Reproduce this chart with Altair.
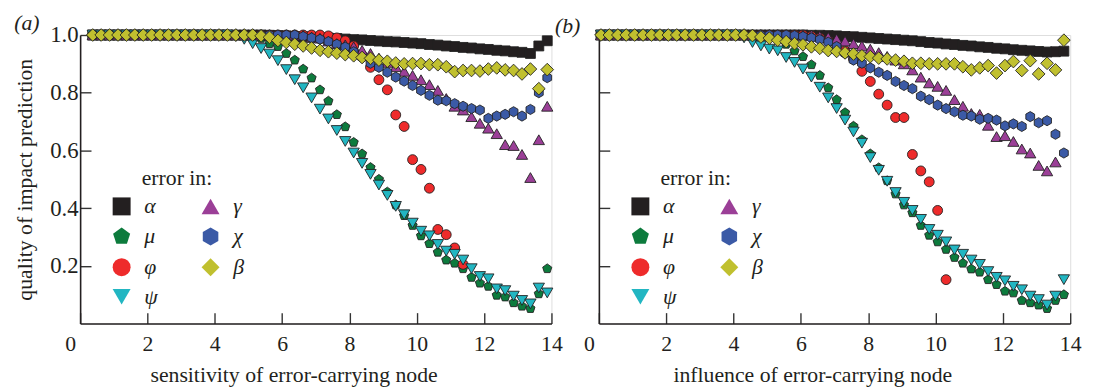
import altair as alt
import pandas as pd

# ---------------- data ----------------
X_LEFT = [0.375, 0.625, 0.875, 1.125, 1.375, 1.625, 1.875, 2.125, 2.375, 2.625,
          2.875, 3.125, 3.375, 3.625, 3.875, 4.125, 4.375, 4.625, 4.875, 5.125,
          5.375, 5.625, 5.875, 6.125, 6.375, 6.625, 6.875, 7.125, 7.375, 7.625,
          7.875, 8.125, 8.375, 8.625, 8.875, 9.125, 9.375, 9.625, 9.875, 10.125,
          10.375, 10.625, 10.875, 11.125, 11.375, 11.625, 11.875, 12.125, 12.375, 12.625,
          12.875, 13.125, 13.375, 13.625, 13.875]

ONE20 = [1.0] * 20
L_ALPHA = ONE20 + [1.0, 0.999, 0.998, 0.997, 0.995, 0.994, 0.992, 0.991, 0.989, 0.988,
                   0.986, 0.984, 0.983, 0.981, 0.979, 0.977, 0.976, 0.974, 0.972, 0.970,
                   0.967, 0.965, 0.962, 0.960, 0.957, 0.955, 0.952, 0.950, 0.947, 0.945,
                   0.942, 0.940, 0.936, 0.962, 0.980]
L_MU = ONE20 + [0.988, 0.970, 0.960, 0.936, 0.913, 0.882, 0.851, 0.810, 0.771, 0.724,
                0.682, 0.628, 0.588, 0.541, 0.500, 0.456, 0.411, 0.374, 0.340, 0.304,
                0.277, 0.247, 0.220, 0.209, 0.190, 0.160, 0.140, 0.129, 0.098, 0.092,
                0.072, 0.060, 0.052, 0.103, 0.190]
L_PHI = [1.0] * 28 + [0.997, 0.990, 0.980, 0.962, 0.930, 0.888, 0.845, 0.810, 0.723, 0.683,
                      0.568, 0.534, 0.469, 0.326, 0.308, 0.262, 0.205] + [None] * 10
L_PSI = [1.0] * 17 + [0.995, 0.985, 0.970, 0.953, 0.934, 0.911, 0.880, 0.845, 0.817, 0.782,
                      0.743, 0.709, 0.669, 0.631, 0.591, 0.555, 0.517, 0.480, 0.444, 0.406,
                      0.377, 0.348, 0.320, 0.304, 0.274, 0.251, 0.240, 0.220, 0.190, 0.163,
                      0.155, 0.120, 0.114, 0.095, 0.080, 0.068, 0.123, 0.106]
L_GAMMA = [1.0] * 25 + [0.998, 0.993, 0.989, 0.979, 0.970, 0.966, 0.959, 0.947, 0.936, 0.920,
                        0.905, 0.890, 0.874, 0.860, 0.845, 0.828, 0.808, 0.780, 0.753, 0.740,
                        0.717, 0.694, 0.677, 0.658, 0.620, 0.617, 0.586, 0.506, 0.637, 0.753]
L_CHI = [1.0] * 25 + [0.995, 0.990, 0.985, 0.977, 0.968, 0.958, 0.942, 0.922, 0.902, 0.888,
                      0.871, 0.854, 0.840, 0.825, 0.808, 0.791, 0.774, 0.772, 0.762, 0.753,
                      0.745, 0.740, 0.711, 0.719, 0.725, 0.734, 0.719, 0.742, 0.800, 0.852]
L_BETA = ONE20 + [0.997, 0.992, 0.981, 0.974, 0.968, 0.962, 0.955, 0.947, 0.942, 0.937,
                  0.932, 0.928, 0.922, 0.919, 0.913, 0.909, 0.903, 0.900, 0.901, 0.901,
                  0.897, 0.897, 0.890, 0.873, 0.877, 0.877, 0.875, 0.882, 0.886, 0.879,
                  0.877, 0.865, 0.882, 0.814, 0.880]

X_RIGHT = [0.0625, 0.3125, 0.5625, 0.8125, 1.0625, 1.3125, 1.5625, 1.8125, 2.0625, 2.3125,
           2.5625, 2.8125, 3.0625, 3.3125, 3.5625, 3.8125, 4.0625, 4.3125, 4.5625, 4.8125,
           5.0625, 5.3125, 5.5625, 5.8125, 6.0625, 6.3125, 6.5625, 6.8125, 7.0625, 7.3125,
           7.5625, 7.8125, 8.0625, 8.3125, 8.5625, 8.8125, 9.0625, 9.3125, 9.5625, 9.8125,
           10.0625, 10.3125, 10.5625, 10.8125, 11.0625, 11.3125, 11.5625, 11.8125, 12.0625, 12.3125,
           12.5625, 12.8125, 13.0625, 13.3125, 13.5625, 13.8125]

R_ALPHA = [1.0] * 24 + [1.0, 0.999, 0.999, 0.998, 0.997, 0.995, 0.994, 0.992, 0.990, 0.988,
                        0.986, 0.984, 0.982, 0.980, 0.977, 0.974, 0.972, 0.969, 0.967, 0.964,
                        0.962, 0.959, 0.957, 0.954, 0.952, 0.949, 0.947, 0.945, 0.943, 0.941,
                        0.942, 0.944]
R_MU = [1.0] * 21 + [0.990, 0.968, 0.945, 0.925, 0.897, 0.860, 0.817, 0.776, 0.731, 0.684,
                     0.637, 0.588, 0.540, 0.495, 0.449, 0.411, 0.384, 0.340, 0.306, 0.283,
                     0.257, 0.229, 0.209, 0.189, 0.178, 0.152, 0.135, 0.112, 0.106, 0.080,
                     0.072, 0.064, 0.052, 0.080, 0.100]
R_PHI = [1.0] * 25 + [0.996, 0.990, 0.980, 0.965, 0.945, 0.917, 0.874, 0.839, 0.795, 0.757,
                      0.714, 0.714, 0.586, 0.529, 0.491, 0.392, 0.152] + [None] * 14
R_PSI = [1.0] * 17 + [0.990, 0.974, 0.962, 0.951, 0.945, 0.922, 0.905, 0.882, 0.854, 0.819,
                      0.782, 0.745, 0.705, 0.664, 0.625, 0.575, 0.531, 0.493, 0.454, 0.420,
                      0.392, 0.361, 0.326, 0.306, 0.283, 0.255, 0.240, 0.220, 0.205, 0.180,
                      0.160, 0.148, 0.129, 0.117, 0.095, 0.083, 0.064, 0.095, 0.152]
R_GAMMA = [1.0] * 26 + [0.996, 0.992, 0.986, 0.979, 0.970, 0.962, 0.951, 0.939, 0.926, 0.913,
                        0.900, 0.879, 0.854, 0.834, 0.822, 0.808, 0.776, 0.753, 0.728, 0.725,
                        0.687, 0.648, 0.651, 0.631, 0.605, 0.591, 0.548, 0.529, 0.560, None]
R_CHI = [1.0] * 23 + [0.998, 0.995, 0.990, 0.984, 0.975, 0.960, 0.936, 0.913, 0.902, 0.886,
                      0.871, 0.860, 0.839, 0.825, 0.814, 0.788, 0.776, 0.757, 0.745, 0.734,
                      0.722, 0.719, 0.708, 0.711, 0.705, 0.685, 0.692, 0.683, 0.717, 0.696,
                      0.703, 0.656, 0.591]
R_BETA = [1.0] * 18 + [0.998, 0.993, 0.989, 0.982, 0.977, 0.970, 0.966, 0.959, 0.954, 0.946,
                       0.943, 0.938, 0.934, 0.928, 0.925, 0.920, 0.917, 0.913, 0.909, 0.902,
                       0.902, 0.900, 0.900, 0.900, 0.900, 0.890, 0.879, 0.886, 0.894, 0.868,
                       0.894, 0.908, 0.877, 0.911, 0.865, 0.902, 0.879, 0.982]

# drawing order == legend order (legend fills column by column: α μ φ ψ | γ χ β)
SERIES = ["α", "μ", "φ", "ψ", "γ", "χ", "β"]
COLORS = {"α": "#231f20", "μ": "#0d7b3d", "φ": "#ee2b2b", "ψ": "#22b6c2",
          "γ": "#9b3f97", "χ": "#3b5aa6", "β": "#c0c02f"}
PENTAGON = "M0,-1L0.951,-0.309L0.588,0.809L-0.588,0.809L-0.951,-0.309Z"
HEXAGON = "M0,-1L0.866,-0.5L0.866,0.5L0,1L-0.866,0.5L-0.866,-0.5Z"
SHAPES = {"α": "square", "μ": PENTAGON, "φ": "circle", "ψ": "triangle-down",
          "γ": "triangle-up", "χ": HEXAGON, "β": "diamond"}
SIZES = {"α": 100, "μ": 95, "φ": 100, "ψ": 130, "γ": 130, "χ": 105, "β": 165}

LEFT = {"α": L_ALPHA, "μ": L_MU, "φ": L_PHI, "ψ": L_PSI, "γ": L_GAMMA, "χ": L_CHI, "β": L_BETA}
RIGHT = {"α": R_ALPHA, "μ": R_MU, "φ": R_PHI, "ψ": R_PSI, "γ": R_GAMMA, "χ": R_CHI, "β": R_BETA}


def frame(xs, series):
    rows = []
    for s in SERIES:
        for xv, yv in zip(xs, series[s]):
            if yv is not None:
                rows.append({"x": xv, "y": yv, "s": s})
    return pd.DataFrame(rows)


FONT = "Liberation Serif"
INK = "#231f20"
W, H = 477, 292


def panel(df, xtitle, label, ylabels, title_dx):
    legend = alt.Legend(
        title="error in:", orient="none", legendX=31, legendY=135, columns=2,
        symbolSize=330, symbolStrokeColor="#222222", symbolStrokeWidth=1,
        symbolOpacity=1, labelFont=FONT, labelFontStyle="italic", labelFontSize=22,
        labelColor=INK, titleFont=FONT, titleFontSize=22, titleFontWeight="normal",
        titleColor=INK, rowPadding=7, columnPadding=41, labelOffset=12,
        titleAnchor="middle", titlePadding=5,
    )
    xaxis = alt.Axis(
        values=[0, 2, 4, 6, 8, 10, 12, 14], title=xtitle, grid=False,
        labelFlush=False,
        labelOffset={"condition": {"test": "datum.value === 0", "value": -10}, "value": 0},
        labelFont=FONT, labelFontSize=22, labelColor=INK, labelPadding=21,
        titleFont=FONT, titleFontSize=22, titleFontWeight="normal", titleColor=INK,
        titlePadding=11, titleX=216,
        domainColor=INK, domainWidth=1.6, tickColor="#333333", tickWidth=1.4,
        tickSize={"expr": "-11"},
    )
    yaxis = alt.Axis(
        values=[0.2, 0.4, 0.6, 0.8, 1.0], format=".1f", grid=False,
        labels=ylabels, title="quality of impact prediction" if ylabels else None,
        labelFont=FONT, labelFontSize=23, labelColor=INK, labelPadding=13,
        titleFont=FONT, titleFontSize=22, titleFontWeight="normal", titleColor=INK,
        titlePadding=13,
        domainColor=INK, domainWidth=1.6, tickColor="#333333", tickWidth=1.4,
        tickSize={"expr": "-11"},
    )
    base = alt.Chart(df).encode(
        x=alt.X("x:Q", scale=alt.Scale(domain=[0, 14], nice=False, zero=False), axis=xaxis),
        y=alt.Y("y:Q", scale=alt.Scale(domain=[0, 1], nice=False), axis=yaxis),
        fill=alt.Fill("s:N", scale=alt.Scale(domain=SERIES,
                                             range=[COLORS[k] for k in SERIES]),
                      legend=legend),
        shape=alt.Shape("s:N", scale=alt.Scale(domain=SERIES,
                                               range=[SHAPES[k] for k in SERIES]),
                        legend=legend),
    )
    layers = [
        base.transform_filter(alt.datum.s == k).mark_point(
            filled=True, opacity=1, stroke="#222222", strokeWidth=0.9, size=SIZES[k]
        )
        for k in SERIES
    ]
    return alt.layer(*layers).properties(
        width=W, height=H,
        title=alt.TitleParams(label, anchor="start", frame="bounds", font=FONT,
                              fontSize=22, fontStyle="italic", fontWeight="normal",
                              color=INK, offset=-8, dx=title_dx, dy=3),
    )


left = panel(frame(X_LEFT, LEFT), "sensitivity of error-carrying node", "(a)", True, 0)
right = panel(frame(X_RIGHT, RIGHT), "influence of error-carrying node", "(b)", False, -29)

chart = alt.hconcat(left, right, spacing=48, bounds="flush").resolve_scale(
    fill="independent", shape="independent"
).configure_view(stroke=None).configure(
    padding={"left": 5, "top": 1, "right": 5, "bottom": 5}, font=FONT
)

chart.save("out.html", embed_options={"renderer": "svg", "actions": False})
